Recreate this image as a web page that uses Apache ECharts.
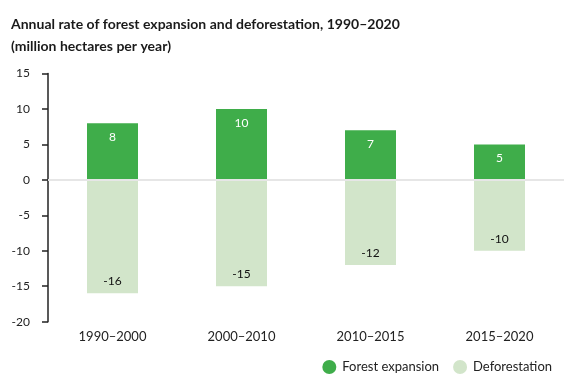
<!DOCTYPE html>
<html><head><meta charset="utf-8">
<script src="https://cdn.jsdelivr.net/npm/echarts@6/dist/echarts.min.js"></script>
<style>html,body{margin:0;padding:0;background:#fff}#c{width:581px;height:379px}</style>
</head><body><div id="c"></div>
<script>
var categories = ['1990–2000', '2000–2010', '2010–2015', '2015–2020'];
var expansion = [8, 10, 7, 5];
var deforestation = [-16, -15, -12, -10];
var yTicks = {min: -20, max: 15, interval: 5};
var FONT = 'Lato, "Open Sans", sans-serif';
var chart = echarts.init(document.getElementById('c'));
chart.setOption({
  animation: false,
  textStyle: {fontFamily: FONT},
  title: {
    text: 'Annual rate of forest expansion and deforestation, 1990–2020\n(million hectares per year)',
    left: 6, top: 8,
    textStyle: {fontFamily: FONT, fontSize: 14, fontWeight: 'bold', color: '#1a1a1a', lineHeight: 22}
  },
  legend: {
    right: 24, top: 355, icon: 'circle', itemWidth: 14, itemHeight: 14, itemGap: 14,
    textStyle: {fontFamily: FONT, fontSize: 13, color: '#222', padding: [0, 0, 0, 1]},
    data: ['Forest expansion', 'Deforestation']
  },
  grid: {left: 48, right: 17, top: 73.5, bottom: 57.3, containLabel: false},
  xAxis: {
    type: 'category', data: categories,
    axisLine: {show: false}, axisTick: {show: false},
    axisLabel: {fontFamily: FONT, fontSize: 13, color: '#222', margin: 9}
  },
  yAxis: {
    type: 'value', min: yTicks.min, max: yTicks.max, interval: yTicks.interval,
    axisLine: {show: true, lineStyle: {color: '#222', width: 1.5}},
    axisTick: {show: true, length: 6, lineStyle: {color: '#222', width: 1.5}},
    splitLine: {show: false},
    axisLabel: {fontFamily: FONT, fontSize: 12, color: '#222', margin: 18}
  },
  series: [
    {
      name: 'Forest expansion', type: 'bar', stack: 'a', data: expansion, barWidth: 51,
      itemStyle: {color: '#3fad4a'},
      label: {show: true, position: 'insideTop', distance: 8, color: '#fff', fontSize: 12, fontFamily: FONT},
      markLine: {
        silent: true, symbol: 'none', label: {show: false},
        lineStyle: {color: '#e6e6e6', width: 2, type: 'solid'},
        data: [{yAxis: 0}]
      }
    },
    {
      name: 'Deforestation', type: 'bar', stack: 'a', data: deforestation, barWidth: 51,
      itemStyle: {color: '#d2e5ca'},
      label: {show: true, position: 'insideBottom', distance: 6, color: '#111', fontSize: 12, fontFamily: FONT}
    }
  ]
});
</script></body></html>
